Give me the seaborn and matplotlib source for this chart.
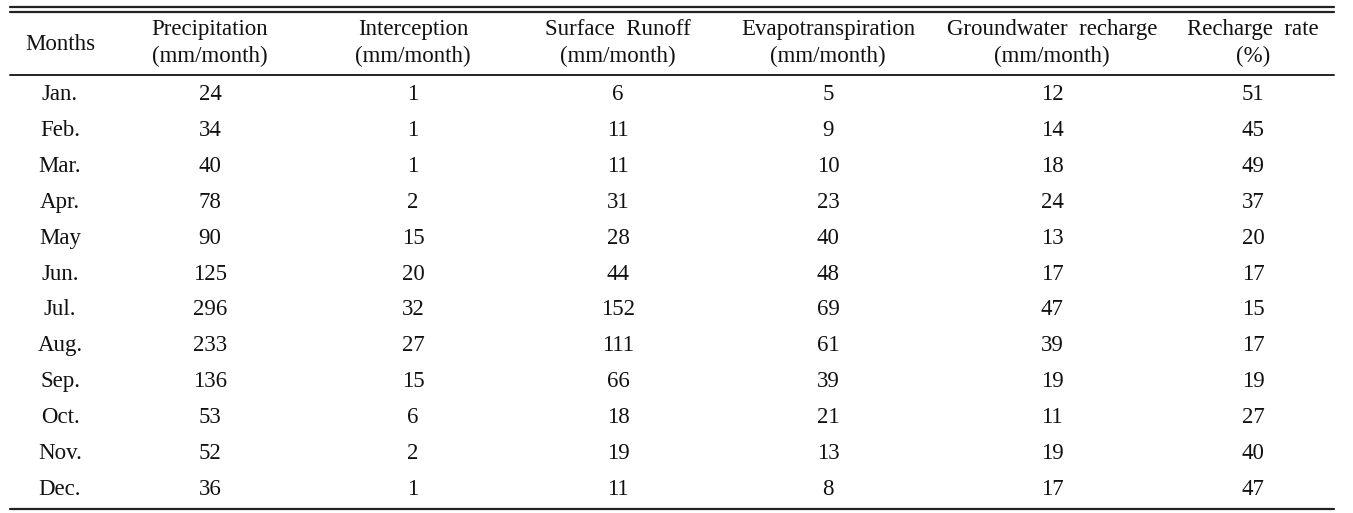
import matplotlib
matplotlib.use("Agg")
import matplotlib.pyplot as plt
import seaborn as sns

months = ["Jan.", "Feb.", "Mar.", "Apr.", "May", "Jun.", "Jul.", "Aug.", "Sep.", "Oct.", "Nov.", "Dec."]
precipitation = [24, 34, 40, 78, 90, 125, 296, 233, 136, 53, 52, 36]
interception = [1, 1, 1, 2, 15, 20, 32, 27, 15, 6, 2, 1]
surface_runoff = [6, 11, 11, 31, 28, 44, 152, 111, 66, 18, 19, 11]
evapotranspiration = [5, 9, 10, 23, 40, 48, 69, 61, 39, 21, 13, 8]
groundwater_recharge = [12, 14, 18, 24, 13, 17, 47, 39, 19, 11, 19, 17]
recharge_rate = [51, 45, 49, 37, 20, 17, 15, 17, 19, 27, 40, 47]

header_top = ["Precipitation", "Interception", "Surface  Runoff", "Evapotranspiration",
              "Groundwater  recharge", "Recharge  rate"]
header_bottom = ["(mm/month)", "(mm/month)", "(mm/month)", "(mm/month)", "(mm/month)", "(%)"]

sns.set_theme(style="white")
plt.rcParams["font.family"] = ["Liberation Serif", "DejaVu Serif"]

W, H = 1353, 513
fig = plt.figure(figsize=(W / 100, H / 100), dpi=100)
ax = fig.add_axes([0, 0, 1, 1])
ax.set_xlim(0, W)
ax.set_ylim(H, 0)
ax.axis("off")

col_x = [60, 210, 413, 618, 828, 1052, 1253]
fs = 16.5
x0, x1 = 10 / W, 1334 / W

# rules
for yy, lw in [(7, 1.6), (11.5, 1.6), (75, 1.4), (509, 1.6)]:
    ax.axhline(yy, xmin=x0, xmax=x1, color="#222222", lw=lw)

# header
ax.text(col_x[0], 50, "Months", ha="center", va="baseline", fontsize=fs, color="#111111")
for j in range(6):
    ax.text(col_x[j + 1], 35, header_top[j], ha="center", va="baseline", fontsize=fs, color="#111111")
    ax.text(col_x[j + 1], 62, header_bottom[j], ha="center", va="baseline", fontsize=fs, color="#111111")

columns = [precipitation, interception, surface_runoff, evapotranspiration,
           groundwater_recharge, recharge_rate]
for i, m in enumerate(months):
    yb = 100 + i * 35.9
    ax.text(col_x[0], yb, m, ha="center", va="baseline", fontsize=fs, color="#111111")
    for j, col in enumerate(columns):
        ax.text(col_x[j + 1], yb, str(col[i]), ha="center", va="baseline", fontsize=fs, color="#111111")

fig.savefig("out.png", dpi=100, facecolor="white")
